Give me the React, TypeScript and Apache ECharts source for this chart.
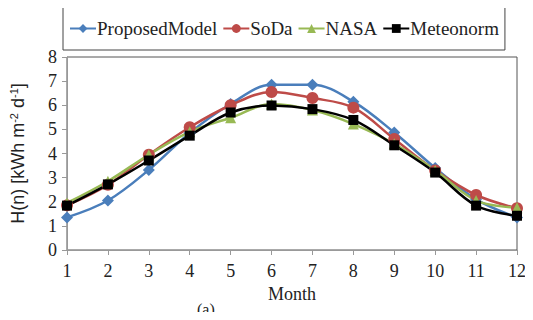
import React, { useEffect, useRef } from "react";
import * as echarts from "echarts";

const months = [1, 2, 3, 4, 5, 6, 7, 8, 9, 10, 11, 12];
const proposed = [1.35, 2.05, 3.32, 4.85, 6.05, 6.85, 6.85, 6.15, 4.87, 3.4, 2.1, 1.35];
const soda = [1.85, 2.7, 3.95, 5.09, 6.0, 6.55, 6.3, 5.9, 4.6, 3.3, 2.28, 1.73];
const nasa = [1.95, 2.85, 3.95, 4.9, 5.48, 6.05, 5.8, 5.22, 4.4, 3.3, 2.05, 1.75];
const meteonorm = [1.84, 2.72, 3.71, 4.74, 5.7, 5.99, 5.84, 5.39, 4.34, 3.21, 1.84, 1.42];
const seriesNames = ["ProposedModel", "SoDa", "NASA", "Meteonorm"];

const serif = "Liberation Serif";

export default function App() {
  const ref = useRef<HTMLDivElement>(null);
  useEffect(() => {
    const chart = echarts.init(ref.current!, undefined, { renderer: "svg" });
    const mk = (name: string, data: number[], color: string, symbol: string, size: number) => ({
      name,
      type: "line",
      smooth: 0.35,
      data: months.map((m, i) => [m, data[i]]),
      symbol,
      symbolSize: size,
      lineStyle: { color, width: 2.5 },
      itemStyle: { color },
      z: 2,
    });
    chart.setOption({
      animation: false,
      backgroundColor: "#fff",
      grid: {
        left: 62,
        right: 16,
        top: 57,
        bottom: 70,
        show: true,
        borderColor: "#555",
        borderWidth: 1,
      },
      legend: {
        left: 63,
        top: 7,
        padding: [12, 6, 12, 6],
        borderColor: "#444",
        borderWidth: 1,
        itemGap: 5,
        itemWidth: 26,
        itemHeight: 11,
        data: seriesNames,
        textStyle: { fontFamily: serif, fontSize: 19, color: "#222", padding: [0, 0, 0, -4] },
      },
      xAxis: {
        type: "value",
        min: 1,
        max: 12,
        interval: 1,
        name: "Month",
        nameLocation: "middle",
        nameGap: 27,
        nameTextStyle: { fontFamily: serif, fontSize: 18, color: "#222" },
        axisLine: { lineStyle: { color: "#999" } },
        axisTick: { show: true, length: 5, lineStyle: { color: "#999" } },
        axisLabel: { fontFamily: serif, fontSize: 18, color: "#222", margin: 12 },
        splitLine: { show: false },
      },
      yAxis: {
        type: "value",
        min: 0,
        max: 8,
        interval: 1,
        name: "H(n) [kWh m{sup|-2} d{sup|-1}]",
        nameLocation: "middle",
        nameRotate: 90,
        nameGap: 40,
        nameTextStyle: {
          fontFamily: "Liberation Sans",
          fontSize: 18,
          color: "#222",
          rich: {
            sup: {
              fontFamily: "Liberation Sans",
              fontSize: 11,
              color: "#222",
              verticalAlign: "top",
              padding: [0, 0, 8, 0],
            },
          },
        },
        axisLine: { show: true, lineStyle: { color: "#999" } },
        axisTick: { show: true, length: 5, lineStyle: { color: "#999" } },
        axisLabel: { fontFamily: serif, fontSize: 18, color: "#222", margin: 10 },
        splitLine: { show: false },
      },
      graphic: [
        {
          type: "text",
          left: 197,
          top: 301,
          style: { text: "(a)", font: `16px "${serif}"`, fill: "#222" },
        },
      ],
      series: [
        mk("ProposedModel", proposed, "#4a7ebb", "diamond", 12),
        mk("SoDa", soda, "#be4b48", "circle", 12),
        mk("NASA", nasa, "#98b954", "triangle", 11),
        mk("Meteonorm", meteonorm, "#000000", "rect", 10),
      ],
    });
    return () => chart.dispose();
  }, []);
  return <div ref={ref} style={{ width: 533, height: 320, margin: -8 }} />;
}
